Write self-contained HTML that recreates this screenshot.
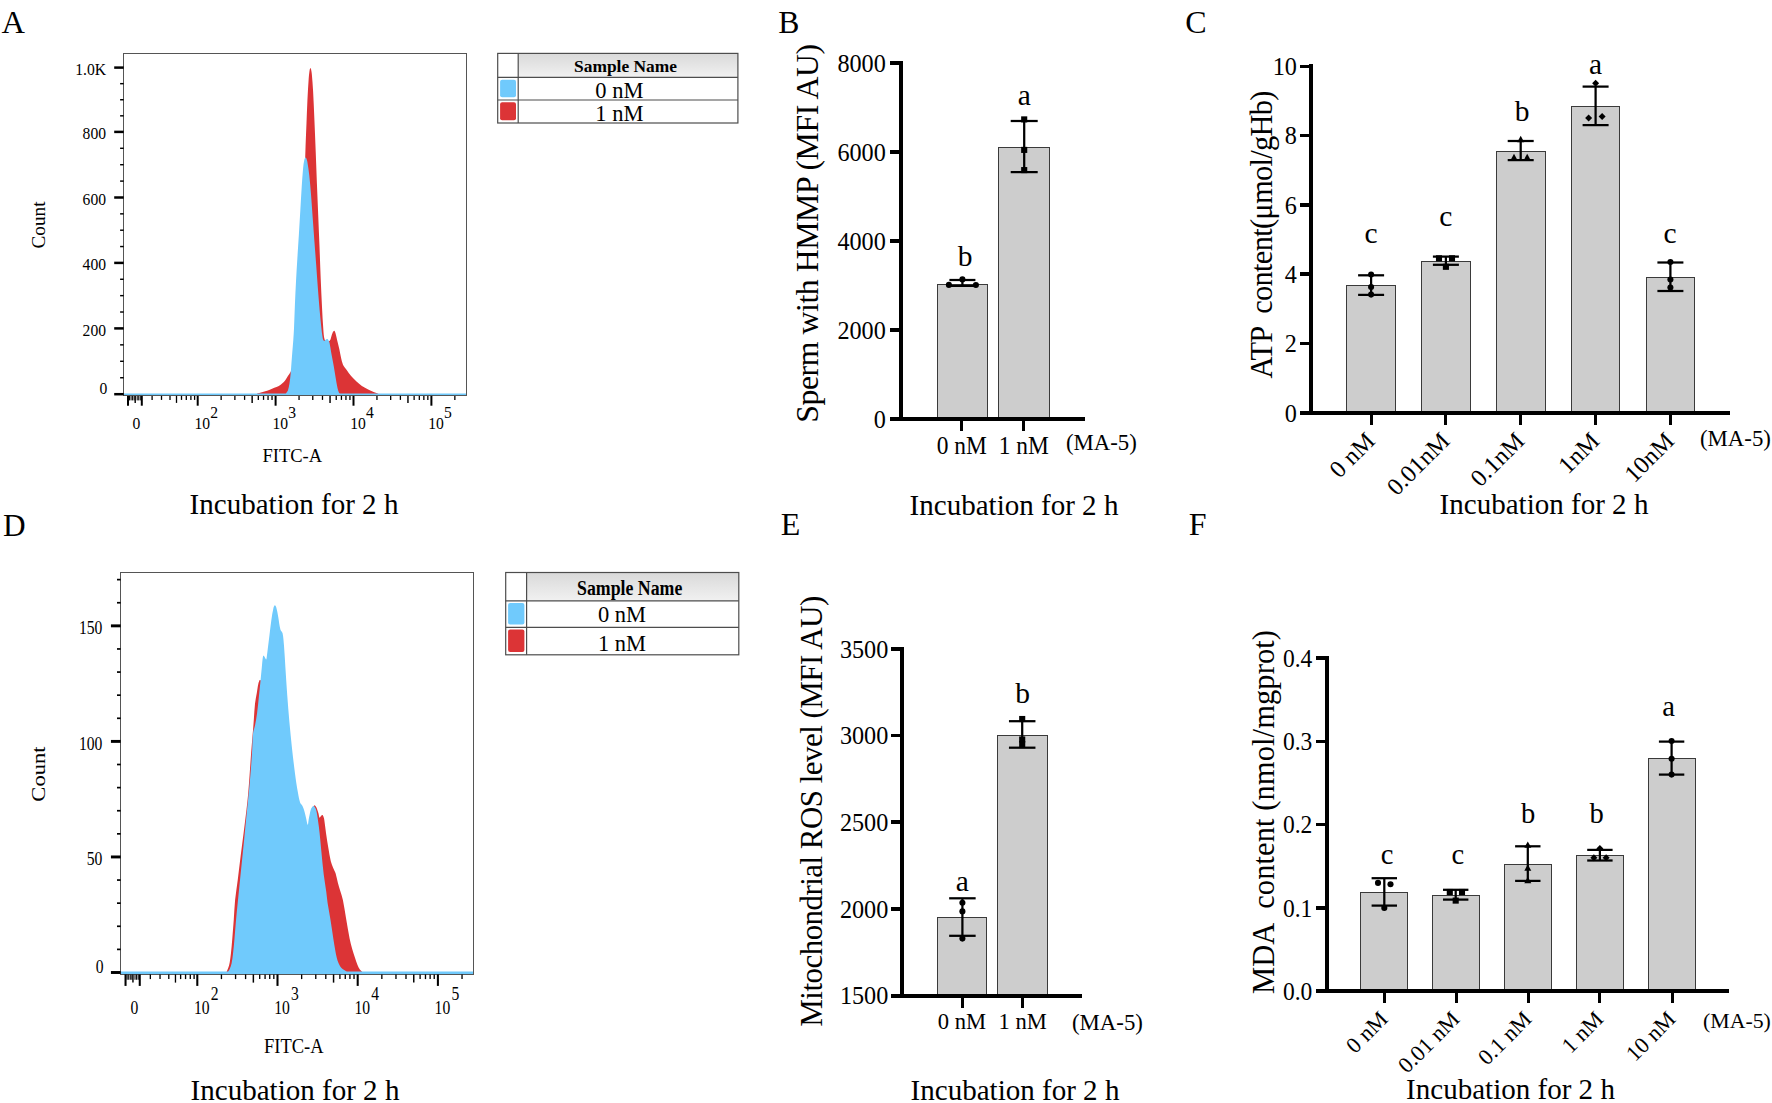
<!DOCTYPE html>
<html lang="en">
<head>
<meta charset="utf-8">
<title>Figure</title>
<style>
html,body{margin:0;padding:0;background:#fff;}
body{width:1772px;height:1103px;overflow:hidden;}
svg{display:block;font-family:'Liberation Serif', 'DejaVu Serif', serif;}
text{white-space:pre;}
</style>
</head>
<body>
<svg width="1772" height="1103" viewBox="0 0 1772 1103">
<rect x="0" y="0" width="1772" height="1103" fill="#ffffff"/>
<text x="1.6" y="33.2" font-size="32.5">A</text>
<text x="778.2" y="32.5" font-size="31.7">B</text>
<text x="1185.3" y="32.6" font-size="32">C</text>
<text x="3" y="535.7" font-size="31.3">D</text>
<text x="780.8" y="535.2" font-size="32">E</text>
<text x="1188.7" y="535.2" font-size="32">F</text>
<defs><linearGradient id="hdr" x1="0" y1="0" x2="0" y2="1"><stop offset="0" stop-color="#d9d9d9"/><stop offset="1" stop-color="#f1f1f1"/></linearGradient></defs>
<path d="M256.8 395.9 L256.8 394.2 C257.07 393.9 257.24 393.45 257.6 393.3 C258.64 392.85 259.87 392.7 261 392.4 C262.13 392.1 263.28 391.84 264.4 391.5 C266.21 390.94 268.03 390.38 269.8 389.7 C271.33 389.11 272.78 388.32 274.3 387.7 C275.78 387.09 277.4 386.76 278.8 386 C280.1 385.29 281.26 384.27 282.4 383.3 C283.36 382.47 284.33 381.61 285.1 380.6 C286.17 379.21 286.95 377.59 287.9 376.1 C288.78 374.72 289.93 373.48 290.6 372 C291.46 370.11 292.23 368.07 292.5 366 C293.63 357.41 294.2 348.68 294.8 340 C296.87 310.01 298.7 280.01 300.5 250 C301.9 226.67 303.27 203.34 304.4 180 C304.97 168.34 305.17 156.67 305.6 145 C305.87 137.67 306.2 130.33 306.5 123 C306.8 115.57 307.03 108.13 307.4 100.7 C307.77 93.3 308.18 85.89 308.7 78.5 C308.88 75.99 309.12 73.48 309.5 71 C309.66 69.98 309.96 68.32 310.3 68 C310.49 67.82 310.96 68.96 311.1 69.5 C311.46 70.89 311.67 72.35 311.8 73.8 C312.33 79.59 312.77 85.39 313.1 91.2 C313.64 100.73 313.99 110.27 314.4 119.8 C314.86 130.37 315.28 140.93 315.7 151.5 C316.12 162.07 316.48 172.63 316.9 183.2 C317.32 193.77 317.77 204.33 318.2 214.9 C318.63 225.47 319.08 236.03 319.5 246.6 C319.92 257.2 320.26 267.8 320.7 278.4 C321.09 287.9 321.51 297.4 322 306.9 C322.38 314.3 322.71 321.71 323.3 329.1 C323.58 332.58 323.65 336.32 324.6 339.5 C324.88 340.45 326.11 341.33 327 341.5 C327.88 341.67 329.27 341.18 329.9 340.5 C330.67 339.68 330.79 338.17 331.2 337 C331.76 335.41 332.06 333.66 332.8 332.2 C333.12 331.56 334.01 330.52 334.4 330.7 C334.94 330.95 335.32 332.53 335.6 333.5 C336.22 335.63 336.58 337.84 337.1 340 C337.82 343 338.63 345.99 339.3 349 C339.97 352.02 340.4 355.09 341.1 358.1 C341.6 360.22 342 362.44 342.9 364.4 C343.8 366.34 345.26 368.03 346.5 369.8 C347.99 371.93 349.42 374.13 351.1 376.1 C352.75 378.03 354.63 379.78 356.5 381.5 C358.23 383.08 359.97 384.68 361.9 386 C363.87 387.35 366.06 388.42 368.2 389.5 C369.96 390.39 371.79 391.14 373.6 391.9 C374.95 392.47 376.38 392.89 377.7 393.5 C378.04 393.66 378.3 393.97 378.6 394.2 L378.6 395.9 Z" fill="#dc3436"/>
<path d="M285.6 395.9 L285.6 394.2 C285.93 393.67 286.26 393.13 286.6 392.6 C287.03 391.93 287.67 391.35 287.9 390.6 C288.63 388.25 289.09 385.75 289.5 383.3 C289.99 380.32 290.31 377.31 290.6 374.3 C290.98 370.41 291.2 366.5 291.5 362.6 C291.73 359.57 291.96 356.53 292.2 353.5 C292.56 349 292.98 344.5 293.3 340 C293.58 336.17 293.82 332.34 294 328.5 C294.36 320.67 294.57 312.83 294.9 305 C295.23 297.13 295.58 289.26 296 281.4 C296.42 273.53 296.92 265.67 297.4 257.8 C297.88 249.97 298.42 242.13 298.9 234.3 C299.38 226.43 299.83 218.57 300.3 210.7 C300.77 202.83 301.18 194.96 301.7 187.1 C302.11 180.83 302.5 174.55 303.1 168.3 C303.37 165.52 303.69 162.7 304.3 160 C304.49 159.14 305.03 157.94 305.5 157.6 C305.73 157.44 306.23 158.12 306.4 158.5 C306.83 159.46 307.12 160.54 307.3 161.6 C308.08 166.17 308.78 170.78 309.3 175.4 C310.01 181.65 310.5 187.93 311 194.2 C311.63 202.06 312.13 209.93 312.7 217.8 C313.27 225.63 313.82 233.47 314.4 241.3 C314.98 249.17 315.62 257.03 316.2 264.9 C316.78 272.77 317.3 280.64 317.9 288.5 C318.44 295.57 318.98 302.64 319.6 309.7 C320.08 315.2 320.6 320.71 321.2 326.2 C321.63 330.14 322.01 334.12 322.7 338 C322.87 338.98 323.26 340.24 323.8 340.8 C324.03 341.04 324.65 340.62 325 340.4 C325.51 340.08 325.87 339.43 326.4 339.2 C326.8 339.03 327.53 338.89 327.8 339.2 C328.56 340.06 329.18 341.45 329.5 342.7 C330.28 345.75 330.54 348.97 331.1 352.1 C331.57 354.74 332.11 357.37 332.6 360 C333.04 362.37 333.49 364.73 333.9 367.1 C334.52 370.7 335.08 374.3 335.7 377.9 C336.28 381.24 336.77 384.6 337.5 387.9 C337.84 389.43 338.27 390.98 338.9 392.4 C339.2 393.08 339.83 393.6 340.3 394.2 L340.3 395.9 Z" fill="#70cafc"/>
<line x1="123.7" y1="394.45" x2="466.4" y2="394.45" stroke="#70cafc" stroke-width="2.1"/>
<rect x="123.7" y="53.5" width="342.7" height="342.4" fill="none" stroke="#555555" stroke-width="1" shape-rendering="crispEdges"/>
<line x1="120.1" y1="377.75" x2="123.7" y2="377.75" stroke="#000" stroke-width="1.45"/>
<line x1="120.1" y1="361.3" x2="123.7" y2="361.3" stroke="#000" stroke-width="1.45"/>
<line x1="120.1" y1="344.85" x2="123.7" y2="344.85" stroke="#000" stroke-width="1.45"/>
<line x1="120.1" y1="312.02" x2="123.7" y2="312.02" stroke="#000" stroke-width="1.45"/>
<line x1="120.1" y1="295.65" x2="123.7" y2="295.65" stroke="#000" stroke-width="1.45"/>
<line x1="120.1" y1="279.27" x2="123.7" y2="279.27" stroke="#000" stroke-width="1.45"/>
<line x1="120.1" y1="246.55" x2="123.7" y2="246.55" stroke="#000" stroke-width="1.45"/>
<line x1="120.1" y1="230.2" x2="123.7" y2="230.2" stroke="#000" stroke-width="1.45"/>
<line x1="120.1" y1="213.85" x2="123.7" y2="213.85" stroke="#000" stroke-width="1.45"/>
<line x1="120.1" y1="181.1" x2="123.7" y2="181.1" stroke="#000" stroke-width="1.45"/>
<line x1="120.1" y1="164.7" x2="123.7" y2="164.7" stroke="#000" stroke-width="1.45"/>
<line x1="120.1" y1="148.3" x2="123.7" y2="148.3" stroke="#000" stroke-width="1.45"/>
<line x1="120.1" y1="115.83" x2="123.7" y2="115.83" stroke="#000" stroke-width="1.45"/>
<line x1="120.1" y1="99.75" x2="123.7" y2="99.75" stroke="#000" stroke-width="1.45"/>
<line x1="120.1" y1="83.67" x2="123.7" y2="83.67" stroke="#000" stroke-width="1.45"/>
<line x1="114.2" y1="394.2" x2="123.7" y2="394.2" stroke="#000" stroke-width="2.5"/>
<text x="0" y="0" font-size="16.8" transform="translate(107.2 394.4) scale(0.93 1)" text-anchor="end">0</text>
<line x1="114.2" y1="328.4" x2="123.7" y2="328.4" stroke="#000" stroke-width="2.5"/>
<text x="0" y="0" font-size="16.8" transform="translate(106 335.6) scale(0.93 1)" text-anchor="end">200</text>
<line x1="114.2" y1="262.9" x2="123.7" y2="262.9" stroke="#000" stroke-width="2.5"/>
<text x="0" y="0" font-size="16.8" transform="translate(106 270.1) scale(0.93 1)" text-anchor="end">400</text>
<line x1="114.2" y1="197.5" x2="123.7" y2="197.5" stroke="#000" stroke-width="2.5"/>
<text x="0" y="0" font-size="16.8" transform="translate(106 204.7) scale(0.93 1)" text-anchor="end">600</text>
<line x1="114.2" y1="131.9" x2="123.7" y2="131.9" stroke="#000" stroke-width="2.5"/>
<text x="0" y="0" font-size="16.8" transform="translate(106 139.1) scale(0.93 1)" text-anchor="end">800</text>
<line x1="114.2" y1="67.6" x2="123.7" y2="67.6" stroke="#000" stroke-width="2.5"/>
<text x="0" y="0" font-size="16.8" transform="translate(106 74.8) scale(0.93 1)" text-anchor="end">1.0K</text>
<line x1="128" y1="395.9" x2="128" y2="405.7" stroke="#000" stroke-width="2"/>
<line x1="141.8" y1="395.9" x2="141.8" y2="405.7" stroke="#000" stroke-width="2"/>
<line x1="135.2" y1="395.9" x2="135.2" y2="402.9" stroke="#000" stroke-width="1.4"/>
<line x1="129.53" y1="395.9" x2="129.53" y2="400.4" stroke="#000" stroke-width="1"/>
<line x1="131.07" y1="395.9" x2="131.07" y2="400.4" stroke="#000" stroke-width="1"/>
<line x1="132.6" y1="395.9" x2="132.6" y2="400.4" stroke="#000" stroke-width="1"/>
<line x1="134.13" y1="395.9" x2="134.13" y2="400.4" stroke="#000" stroke-width="1"/>
<line x1="137.2" y1="395.9" x2="137.2" y2="400.4" stroke="#000" stroke-width="1"/>
<line x1="138.73" y1="395.9" x2="138.73" y2="400.4" stroke="#000" stroke-width="1"/>
<line x1="140.27" y1="395.9" x2="140.27" y2="400.4" stroke="#000" stroke-width="1"/>
<line x1="152.1" y1="395.9" x2="152.1" y2="399.9" stroke="#000" stroke-width="1.3"/>
<line x1="161.5" y1="395.9" x2="161.5" y2="399.9" stroke="#000" stroke-width="1.3"/>
<line x1="170" y1="395.9" x2="170" y2="399.9" stroke="#000" stroke-width="1.3"/>
<line x1="176.5" y1="395.9" x2="176.5" y2="402.9" stroke="#000" stroke-width="1.3"/>
<line x1="181.5" y1="395.9" x2="181.5" y2="399.9" stroke="#000" stroke-width="1.3"/>
<line x1="186.3" y1="395.9" x2="186.3" y2="399.9" stroke="#000" stroke-width="1.3"/>
<line x1="190.9" y1="395.9" x2="190.9" y2="399.9" stroke="#000" stroke-width="1.3"/>
<line x1="194.6" y1="395.9" x2="194.6" y2="399.9" stroke="#000" stroke-width="1.3"/>
<line x1="197.7" y1="395.9" x2="197.7" y2="405.7" stroke="#000" stroke-width="2"/>
<line x1="221.15" y1="395.9" x2="221.15" y2="399.9" stroke="#000" stroke-width="1.3"/>
<line x1="234.87" y1="395.9" x2="234.87" y2="399.9" stroke="#000" stroke-width="1.3"/>
<line x1="244.6" y1="395.9" x2="244.6" y2="399.9" stroke="#000" stroke-width="1.3"/>
<line x1="252.15" y1="395.9" x2="252.15" y2="402.9" stroke="#000" stroke-width="1.45"/>
<line x1="258.32" y1="395.9" x2="258.32" y2="399.9" stroke="#000" stroke-width="1.3"/>
<line x1="263.53" y1="395.9" x2="263.53" y2="399.9" stroke="#000" stroke-width="1.3"/>
<line x1="268.05" y1="395.9" x2="268.05" y2="399.9" stroke="#000" stroke-width="1.3"/>
<line x1="272.04" y1="395.9" x2="272.04" y2="399.9" stroke="#000" stroke-width="1.3"/>
<line x1="275.6" y1="395.9" x2="275.6" y2="405.7" stroke="#000" stroke-width="2"/>
<line x1="299.05" y1="395.9" x2="299.05" y2="399.9" stroke="#000" stroke-width="1.3"/>
<line x1="312.77" y1="395.9" x2="312.77" y2="399.9" stroke="#000" stroke-width="1.3"/>
<line x1="322.5" y1="395.9" x2="322.5" y2="399.9" stroke="#000" stroke-width="1.3"/>
<line x1="330.05" y1="395.9" x2="330.05" y2="402.9" stroke="#000" stroke-width="1.45"/>
<line x1="336.22" y1="395.9" x2="336.22" y2="399.9" stroke="#000" stroke-width="1.3"/>
<line x1="341.43" y1="395.9" x2="341.43" y2="399.9" stroke="#000" stroke-width="1.3"/>
<line x1="345.95" y1="395.9" x2="345.95" y2="399.9" stroke="#000" stroke-width="1.3"/>
<line x1="349.94" y1="395.9" x2="349.94" y2="399.9" stroke="#000" stroke-width="1.3"/>
<line x1="353.5" y1="395.9" x2="353.5" y2="405.7" stroke="#000" stroke-width="2"/>
<line x1="376.95" y1="395.9" x2="376.95" y2="399.9" stroke="#000" stroke-width="1.3"/>
<line x1="390.67" y1="395.9" x2="390.67" y2="399.9" stroke="#000" stroke-width="1.3"/>
<line x1="400.4" y1="395.9" x2="400.4" y2="399.9" stroke="#000" stroke-width="1.3"/>
<line x1="407.95" y1="395.9" x2="407.95" y2="402.9" stroke="#000" stroke-width="1.45"/>
<line x1="414.12" y1="395.9" x2="414.12" y2="399.9" stroke="#000" stroke-width="1.3"/>
<line x1="419.33" y1="395.9" x2="419.33" y2="399.9" stroke="#000" stroke-width="1.3"/>
<line x1="423.85" y1="395.9" x2="423.85" y2="399.9" stroke="#000" stroke-width="1.3"/>
<line x1="427.84" y1="395.9" x2="427.84" y2="399.9" stroke="#000" stroke-width="1.3"/>
<line x1="431.4" y1="395.9" x2="431.4" y2="405.7" stroke="#000" stroke-width="2"/>
<line x1="454.85" y1="395.9" x2="454.85" y2="399.9" stroke="#000" stroke-width="1.3"/>
<text x="0" y="0" font-size="16.8" transform="translate(136.5 428.5) scale(0.93 1)" text-anchor="middle">0</text>
<text x="0" y="0" font-size="16.8" transform="translate(194.5 428.5) scale(0.93 1)">10</text>
<text x="0" y="0" font-size="16.8" transform="translate(210.3 418.3) scale(0.93 1)">2</text>
<text x="0" y="0" font-size="16.8" transform="translate(272.4 428.5) scale(0.93 1)">10</text>
<text x="0" y="0" font-size="16.8" transform="translate(288.2 418.3) scale(0.93 1)">3</text>
<text x="0" y="0" font-size="16.8" transform="translate(350.3 428.5) scale(0.93 1)">10</text>
<text x="0" y="0" font-size="16.8" transform="translate(366.1 418.3) scale(0.93 1)">4</text>
<text x="0" y="0" font-size="16.8" transform="translate(428.2 428.5) scale(0.93 1)">10</text>
<text x="0" y="0" font-size="16.8" transform="translate(444 418.3) scale(0.93 1)">5</text>
<text x="0" y="0" font-size="19.2" transform="translate(44.9 225) rotate(-90) scale(1 1)" text-anchor="middle">Count</text>
<text x="0" y="0" font-size="18.5" transform="translate(292.3 462) scale(1 1)" text-anchor="middle">FITC-A</text>
<rect x="518.2" y="53.4" width="219.7" height="24" fill="url(#hdr)"/>
<rect x="497.7" y="53.4" width="240.2" height="69.6" fill="none" stroke="#4d4d4d" stroke-width="1.2"/>
<line x1="497.7" y1="77.4" x2="737.9" y2="77.4" stroke="#4d4d4d" stroke-width="1.2"/>
<line x1="497.7" y1="100" x2="737.9" y2="100" stroke="#4d4d4d" stroke-width="1.2"/>
<line x1="518.2" y1="53.4" x2="518.2" y2="123" stroke="#4d4d4d" stroke-width="1.2"/>
<rect x="500.1" y="79.7" width="15.9" height="17.6" fill="#70cafc" rx="2"/>
<rect x="500.1" y="102.3" width="15.9" height="18" fill="#dc3436" rx="2"/>
<text x="625.5" y="72.4" font-size="17.4" text-anchor="middle" font-weight="bold">Sample Name</text>
<text x="619.4" y="98.1" font-size="22.5" text-anchor="middle">0 nM</text>
<text x="619.4" y="120.6" font-size="22.5" text-anchor="middle">1 nM</text>
<text x="0" y="0" font-size="28.7" transform="translate(294 514) scale(1.012 1)" text-anchor="middle">Incubation for 2 h</text>
<path d="M226.3 974.4 L226.3 972.4 C226.93 970.97 227.7 969.58 228.2 968.1 C228.83 966.25 229.34 964.33 229.7 962.4 C230.24 959.53 230.58 956.61 230.9 953.7 C231.45 948.61 231.87 943.5 232.3 938.4 C232.84 932 233.33 925.6 233.8 919.2 C234.27 912.8 234.46 906.38 235.1 900 C235.76 893.38 236.86 886.8 237.7 880.2 C238.7 872.34 239.62 864.46 240.6 856.6 C241.58 848.73 242.61 840.87 243.6 833 C244.58 825.17 245.58 817.34 246.5 809.5 C247.08 804.51 247.65 799.51 248.1 794.5 C248.68 788.01 249.13 781.5 249.6 775 C250.16 767.34 250.63 759.66 251.2 752 C251.63 746.23 252.12 740.47 252.6 734.7 C252.75 732.87 252.95 731.04 253.1 729.2 C253.39 725.6 253.63 722 253.9 718.4 C254.26 713.53 254.45 708.64 255 703.8 C255.41 700.18 256.11 696.58 256.8 693 C257.61 688.75 258 683.2 259.5 680.3 C259.9 679.53 262.21 680.92 262.5 682 C265.71 694.15 267.58 707.32 270 720 C275.08 746.65 278.91 773.6 285 800 C288.91 816.93 294.37 842.96 300 850 C302.37 852.96 306.87 836.93 309 830 C310.87 823.93 310.66 817.24 312 811 C312.43 809.01 313.33 806.32 314.3 805.3 C314.66 804.92 315.58 806.19 316 806.8 C316.55 807.59 316.86 808.58 317.2 809.5 C317.69 810.81 318.11 812.16 318.5 813.5 C318.91 814.89 319.05 817.15 319.6 817.7 C319.88 817.98 320.46 816.48 321 816 C321.43 815.62 322.11 814.97 322.5 815.1 C322.94 815.24 323.28 816.19 323.5 816.8 C323.88 817.85 324.13 818.98 324.3 820.1 C324.96 824.38 325.38 828.71 326 833 C326.74 838.11 327.54 843.21 328.4 848.3 C329.14 852.64 329.77 857.03 330.8 861.3 C331.34 863.53 332.25 865.67 333.1 867.8 C333.82 869.6 334.91 871.26 335.5 873.1 C336.48 876.16 336.97 879.38 337.8 882.5 C338.54 885.28 339.39 888.04 340.2 890.8 C341.09 893.87 342.23 896.88 342.9 900 C344.17 905.95 344.95 912 346 918 C347.19 924.8 348.25 931.63 349.6 938.4 C350.31 941.97 351.23 945.49 352.2 949 C353 951.89 353.96 954.75 354.9 957.6 C355.72 960.08 356.49 962.59 357.5 965 C358.19 966.66 358.96 968.35 360 969.8 C360.73 970.82 361.87 971.53 362.8 972.4 L362.8 974.4 Z" fill="#dc3436"/>
<path d="M227.6 974.4 L227.6 972.4 C228.3 971.3 229.18 970.28 229.7 969.1 C230.51 967.25 231.18 965.28 231.6 963.3 C232.28 960.15 232.63 956.91 233 953.7 C233.59 948.61 234.04 943.5 234.5 938.4 C235.07 932 235.52 925.6 236.1 919.2 C236.59 913.8 237.16 908.4 237.7 903 C238.26 897.33 238.83 891.67 239.4 886 C240.19 878.17 241 870.33 241.8 862.5 C242.6 854.63 243.42 846.77 244.2 838.9 C244.98 831.03 245.72 823.17 246.5 815.3 C247.08 809.43 247.71 803.57 248.3 797.7 C248.71 793.63 249.14 789.57 249.5 785.5 C250.04 779.44 250.55 773.37 251 767.3 C251.45 761.27 251.83 755.24 252.2 749.2 C252.53 743.77 252.46 738.28 253.1 732.9 C253.39 730.41 254.51 728.06 255 725.6 C255.84 721.4 256.53 717.15 257.1 712.9 C257.83 707.48 258.32 702.04 258.9 696.6 C259.42 691.77 259.92 686.93 260.4 682.1 C260.88 677.27 261.3 672.43 261.8 667.6 C262.2 663.66 262.42 659.42 263.1 655.8 C263.15 655.52 263.81 655.71 264 655.9 C264.41 656.31 264.56 657.06 264.9 657.6 C265.29 658.23 265.97 659.69 266.2 659.4 C266.67 658.82 266.78 656.47 267 655 C267.28 653.14 267.47 651.27 267.7 649.4 C268.3 644.57 268.9 639.73 269.5 634.9 C270.1 630.07 270.59 625.22 271.3 620.4 C271.92 616.15 272.51 611.84 273.5 607.7 C273.71 606.81 274.42 605.33 274.9 605.3 C275.35 605.27 276.06 606.67 276.3 607.5 C277.16 610.51 277.62 613.69 278.2 616.8 C278.99 621.02 279.32 625.39 280.4 629.5 C280.75 630.83 282.21 631.76 282.5 633.1 C283.41 637.2 283.64 641.55 284 645.8 C284.61 653.05 284.93 660.33 285.4 667.6 C285.99 676.67 286.53 685.74 287.2 694.8 C287.87 703.87 288.58 712.94 289.4 722 C290.22 731.07 291.12 740.14 292.1 749.2 C292.95 757.08 293.92 764.94 294.9 772.8 C295.32 776.21 295.78 779.61 296.3 783 C296.81 786.34 297.35 789.68 298 793 C298.62 796.15 299.06 799.42 300.1 802.4 C300.56 803.72 301.87 804.64 302.5 805.9 C303.24 807.38 303.73 809 304.2 810.6 C304.89 812.94 305.4 815.33 306 817.7 C306.6 820.07 307.28 824.34 307.8 824.8 C308.15 825.11 308.31 821.6 308.6 820 C308.88 818.43 309.14 816.85 309.5 815.3 C310.04 812.95 310.35 810.43 311.3 808.3 C311.75 807.3 313.01 805.72 313.7 805.9 C314.57 806.12 315.58 808.16 316 809.5 C316.94 812.5 317.32 815.75 317.8 818.9 C318.52 823.58 319.08 828.29 319.6 833 C320.25 838.89 320.71 844.8 321.3 850.7 C322.08 858.57 322.75 866.45 323.7 874.3 C324.41 880.19 325.5 886.02 326.3 891.9 C326.8 895.59 327.05 899.32 327.6 903 C328.41 908.42 329.53 913.79 330.4 919.2 C331.43 925.59 332.3 932.01 333.3 938.4 C333.9 942.24 334.52 946.07 335.2 949.9 C335.66 952.47 336.06 955.07 336.7 957.6 C337.19 959.54 337.77 961.49 338.6 963.3 C339.37 964.99 340.25 966.77 341.5 968.1 C342.81 969.5 344.71 970.36 346.3 971.5 C346.71 971.79 347.1 972.1 347.5 972.4 L347.5 974.4 Z" fill="#70cafc"/>
<line x1="120.7" y1="972.8" x2="473.7" y2="972.8" stroke="#70cafc" stroke-width="2.8"/>
<rect x="120.7" y="572.6" width="353" height="401.8" fill="none" stroke="#555555" stroke-width="1" shape-rendering="crispEdges"/>
<line x1="117" y1="949.39" x2="120.7" y2="949.39" stroke="#000" stroke-width="1.7"/>
<line x1="117" y1="926.28" x2="120.7" y2="926.28" stroke="#000" stroke-width="1.7"/>
<line x1="117" y1="903.17" x2="120.7" y2="903.17" stroke="#000" stroke-width="1.7"/>
<line x1="117" y1="880.06" x2="120.7" y2="880.06" stroke="#000" stroke-width="1.7"/>
<line x1="117" y1="833.84" x2="120.7" y2="833.84" stroke="#000" stroke-width="1.7"/>
<line x1="117" y1="810.73" x2="120.7" y2="810.73" stroke="#000" stroke-width="1.7"/>
<line x1="117" y1="787.62" x2="120.7" y2="787.62" stroke="#000" stroke-width="1.7"/>
<line x1="117" y1="764.51" x2="120.7" y2="764.51" stroke="#000" stroke-width="1.7"/>
<line x1="117" y1="718.29" x2="120.7" y2="718.29" stroke="#000" stroke-width="1.7"/>
<line x1="117" y1="695.18" x2="120.7" y2="695.18" stroke="#000" stroke-width="1.7"/>
<line x1="117" y1="672.07" x2="120.7" y2="672.07" stroke="#000" stroke-width="1.7"/>
<line x1="117" y1="648.96" x2="120.7" y2="648.96" stroke="#000" stroke-width="1.7"/>
<line x1="117" y1="602.74" x2="120.7" y2="602.74" stroke="#000" stroke-width="1.7"/>
<line x1="117" y1="579.63" x2="120.7" y2="579.63" stroke="#000" stroke-width="1.7"/>
<line x1="110.93" y1="972.5" x2="120.7" y2="972.5" stroke="#000" stroke-width="2.93"/>
<text x="0" y="0" font-size="16.8" transform="translate(103.6 972.7) scale(0.93 1.11)" text-anchor="end">0</text>
<line x1="110.93" y1="856.95" x2="120.7" y2="856.95" stroke="#000" stroke-width="2.93"/>
<text x="0" y="0" font-size="16.8" transform="translate(102.4 865.4) scale(0.93 1.11)" text-anchor="end">50</text>
<line x1="110.93" y1="741.4" x2="120.7" y2="741.4" stroke="#000" stroke-width="2.93"/>
<text x="0" y="0" font-size="16.8" transform="translate(102.4 749.85) scale(0.93 1.11)" text-anchor="end">100</text>
<line x1="110.93" y1="625.85" x2="120.7" y2="625.85" stroke="#000" stroke-width="2.93"/>
<text x="0" y="0" font-size="16.8" transform="translate(102.4 634.3) scale(0.93 1.11)" text-anchor="end">150</text>
<line x1="125.54" y1="974.4" x2="125.54" y2="985.91" stroke="#000" stroke-width="2.06"/>
<line x1="139.75" y1="974.4" x2="139.75" y2="985.91" stroke="#000" stroke-width="2.06"/>
<line x1="132.95" y1="974.4" x2="132.95" y2="982.62" stroke="#000" stroke-width="1.44"/>
<line x1="127.12" y1="974.4" x2="127.12" y2="979.68" stroke="#000" stroke-width="1.03"/>
<line x1="128.7" y1="974.4" x2="128.7" y2="979.68" stroke="#000" stroke-width="1.03"/>
<line x1="130.28" y1="974.4" x2="130.28" y2="979.68" stroke="#000" stroke-width="1.03"/>
<line x1="131.86" y1="974.4" x2="131.86" y2="979.68" stroke="#000" stroke-width="1.03"/>
<line x1="135.01" y1="974.4" x2="135.01" y2="979.68" stroke="#000" stroke-width="1.03"/>
<line x1="136.59" y1="974.4" x2="136.59" y2="979.68" stroke="#000" stroke-width="1.03"/>
<line x1="138.17" y1="974.4" x2="138.17" y2="979.68" stroke="#000" stroke-width="1.03"/>
<line x1="150.35" y1="974.4" x2="150.35" y2="979.1" stroke="#000" stroke-width="1.34"/>
<line x1="160.03" y1="974.4" x2="160.03" y2="979.1" stroke="#000" stroke-width="1.34"/>
<line x1="168.78" y1="974.4" x2="168.78" y2="979.1" stroke="#000" stroke-width="1.34"/>
<line x1="175.47" y1="974.4" x2="175.47" y2="982.62" stroke="#000" stroke-width="1.34"/>
<line x1="180.62" y1="974.4" x2="180.62" y2="979.1" stroke="#000" stroke-width="1.34"/>
<line x1="185.56" y1="974.4" x2="185.56" y2="979.1" stroke="#000" stroke-width="1.34"/>
<line x1="190.3" y1="974.4" x2="190.3" y2="979.1" stroke="#000" stroke-width="1.34"/>
<line x1="194.11" y1="974.4" x2="194.11" y2="979.1" stroke="#000" stroke-width="1.34"/>
<line x1="197.3" y1="974.4" x2="197.3" y2="985.91" stroke="#000" stroke-width="2.06"/>
<line x1="221.44" y1="974.4" x2="221.44" y2="979.1" stroke="#000" stroke-width="1.34"/>
<line x1="235.57" y1="974.4" x2="235.57" y2="979.1" stroke="#000" stroke-width="1.34"/>
<line x1="245.59" y1="974.4" x2="245.59" y2="979.1" stroke="#000" stroke-width="1.34"/>
<line x1="253.36" y1="974.4" x2="253.36" y2="982.62" stroke="#000" stroke-width="1.49"/>
<line x1="259.71" y1="974.4" x2="259.71" y2="979.1" stroke="#000" stroke-width="1.34"/>
<line x1="265.08" y1="974.4" x2="265.08" y2="979.1" stroke="#000" stroke-width="1.34"/>
<line x1="269.73" y1="974.4" x2="269.73" y2="979.1" stroke="#000" stroke-width="1.34"/>
<line x1="273.83" y1="974.4" x2="273.83" y2="979.1" stroke="#000" stroke-width="1.34"/>
<line x1="277.5" y1="974.4" x2="277.5" y2="985.91" stroke="#000" stroke-width="2.06"/>
<line x1="301.64" y1="974.4" x2="301.64" y2="979.1" stroke="#000" stroke-width="1.34"/>
<line x1="315.77" y1="974.4" x2="315.77" y2="979.1" stroke="#000" stroke-width="1.34"/>
<line x1="325.79" y1="974.4" x2="325.79" y2="979.1" stroke="#000" stroke-width="1.34"/>
<line x1="333.56" y1="974.4" x2="333.56" y2="982.62" stroke="#000" stroke-width="1.49"/>
<line x1="339.91" y1="974.4" x2="339.91" y2="979.1" stroke="#000" stroke-width="1.34"/>
<line x1="345.28" y1="974.4" x2="345.28" y2="979.1" stroke="#000" stroke-width="1.34"/>
<line x1="349.93" y1="974.4" x2="349.93" y2="979.1" stroke="#000" stroke-width="1.34"/>
<line x1="354.03" y1="974.4" x2="354.03" y2="979.1" stroke="#000" stroke-width="1.34"/>
<line x1="357.7" y1="974.4" x2="357.7" y2="985.91" stroke="#000" stroke-width="2.06"/>
<line x1="381.84" y1="974.4" x2="381.84" y2="979.1" stroke="#000" stroke-width="1.34"/>
<line x1="395.97" y1="974.4" x2="395.97" y2="979.1" stroke="#000" stroke-width="1.34"/>
<line x1="405.99" y1="974.4" x2="405.99" y2="979.1" stroke="#000" stroke-width="1.34"/>
<line x1="413.76" y1="974.4" x2="413.76" y2="982.62" stroke="#000" stroke-width="1.49"/>
<line x1="420.11" y1="974.4" x2="420.11" y2="979.1" stroke="#000" stroke-width="1.34"/>
<line x1="425.48" y1="974.4" x2="425.48" y2="979.1" stroke="#000" stroke-width="1.34"/>
<line x1="430.13" y1="974.4" x2="430.13" y2="979.1" stroke="#000" stroke-width="1.34"/>
<line x1="434.23" y1="974.4" x2="434.23" y2="979.1" stroke="#000" stroke-width="1.34"/>
<line x1="437.9" y1="974.4" x2="437.9" y2="985.91" stroke="#000" stroke-width="2.06"/>
<line x1="462.04" y1="974.4" x2="462.04" y2="979.1" stroke="#000" stroke-width="1.34"/>
<text x="0" y="0" font-size="16.8" transform="translate(134.29 1013.6) scale(0.93 1.11)" text-anchor="middle">0</text>
<text x="0" y="0" font-size="16.8" transform="translate(194 1013.6) scale(0.93 1.11)">10</text>
<text x="0" y="0" font-size="16.8" transform="translate(210.8 1000.45) scale(0.93 1.11)">2</text>
<text x="0" y="0" font-size="16.8" transform="translate(274.2 1013.6) scale(0.93 1.11)">10</text>
<text x="0" y="0" font-size="16.8" transform="translate(291 1000.45) scale(0.93 1.11)">3</text>
<text x="0" y="0" font-size="16.8" transform="translate(354.4 1013.6) scale(0.93 1.11)">10</text>
<text x="0" y="0" font-size="16.8" transform="translate(371.2 1000.45) scale(0.93 1.11)">4</text>
<text x="0" y="0" font-size="16.8" transform="translate(434.6 1013.6) scale(0.93 1.11)">10</text>
<text x="0" y="0" font-size="16.8" transform="translate(451.4 1000.45) scale(0.93 1.11)">5</text>
<text x="0" y="0" font-size="19.2" transform="translate(44.9 774.1) rotate(-90) scale(1.174 1)" text-anchor="middle">Count</text>
<text x="0" y="0" font-size="18.5" transform="translate(293.8 1052.6) scale(1 1.174)" text-anchor="middle">FITC-A</text>
<rect x="526.6" y="572.5" width="212.2" height="28.3" fill="url(#hdr)"/>
<rect x="505.7" y="572.5" width="233.1" height="82.3" fill="none" stroke="#4d4d4d" stroke-width="1.2"/>
<line x1="505.7" y1="600.8" x2="738.8" y2="600.8" stroke="#4d4d4d" stroke-width="1.2"/>
<line x1="505.7" y1="627.3" x2="738.8" y2="627.3" stroke="#4d4d4d" stroke-width="1.2"/>
<line x1="526.6" y1="572.5" x2="526.6" y2="654.8" stroke="#4d4d4d" stroke-width="1.2"/>
<rect x="508.1" y="603.1" width="16.3" height="21.5" fill="#70cafc" rx="2"/>
<rect x="508.1" y="629.6" width="16.3" height="22.5" fill="#dc3436" rx="2"/>
<text x="0" y="0" font-size="17.8" transform="translate(629.7 594.7) scale(1 1.2)" text-anchor="middle" font-weight="bold">Sample Name</text>
<text x="622" y="621.7" font-size="22.5" text-anchor="middle">0 nM</text>
<text x="622" y="651" font-size="22.5" text-anchor="middle">1 nM</text>
<text x="0" y="0" font-size="28.7" transform="translate(295 1100) scale(1.012 1)" text-anchor="middle">Incubation for 2 h</text>
<rect x="937.6" y="284.2" width="49.7" height="135.3" fill="#cdcdcd" stroke="#3a3a3a" stroke-width="1" shape-rendering="crispEdges"/>
<rect x="998.7" y="147.8" width="50.5" height="271.7" fill="#cdcdcd" stroke="#3a3a3a" stroke-width="1" shape-rendering="crispEdges"/>
<line x1="901.4" y1="61.1" x2="901.4" y2="421" stroke="#000" stroke-width="4" shape-rendering="crispEdges"/>
<line x1="889.5" y1="419" x2="1084.7" y2="419" stroke="#000" stroke-width="4" shape-rendering="crispEdges"/>
<line x1="889.5" y1="419" x2="901.4" y2="419" stroke="#000" stroke-width="3.6" shape-rendering="crispEdges"/>
<text x="0" y="0" font-size="25.4" transform="translate(885.8 427.8) scale(0.953 1)" text-anchor="end">0</text>
<line x1="889.5" y1="330" x2="901.4" y2="330" stroke="#000" stroke-width="3.6" shape-rendering="crispEdges"/>
<text x="0" y="0" font-size="25.4" transform="translate(885.8 338.8) scale(0.953 1)" text-anchor="end">2000</text>
<line x1="889.5" y1="241" x2="901.4" y2="241" stroke="#000" stroke-width="3.6" shape-rendering="crispEdges"/>
<text x="0" y="0" font-size="25.4" transform="translate(885.8 249.8) scale(0.953 1)" text-anchor="end">4000</text>
<line x1="889.5" y1="152" x2="901.4" y2="152" stroke="#000" stroke-width="3.6" shape-rendering="crispEdges"/>
<text x="0" y="0" font-size="25.4" transform="translate(885.8 160.8) scale(0.953 1)" text-anchor="end">6000</text>
<line x1="889.5" y1="63" x2="901.4" y2="63" stroke="#000" stroke-width="3.6" shape-rendering="crispEdges"/>
<text x="0" y="0" font-size="25.4" transform="translate(885.8 71.8) scale(0.953 1)" text-anchor="end">8000</text>
<line x1="961.9" y1="419" x2="961.9" y2="431" stroke="#000" stroke-width="3" shape-rendering="crispEdges"/>
<line x1="1023.9" y1="419" x2="1023.9" y2="431" stroke="#000" stroke-width="3" shape-rendering="crispEdges"/>
<line x1="962.4" y1="280" x2="962.4" y2="285.9" stroke="#000" stroke-width="2.25"/>
<line x1="949.4" y1="280" x2="975.4" y2="280" stroke="#000" stroke-width="2.25"/>
<line x1="949.4" y1="285.9" x2="975.4" y2="285.9" stroke="#000" stroke-width="2.25"/>
<circle cx="948.9" cy="284.9" r="3.05" fill="#000"/>
<circle cx="962.4" cy="279.4" r="3.05" fill="#000"/>
<circle cx="975.9" cy="285" r="3.05" fill="#000"/>
<line x1="1024.2" y1="121" x2="1024.2" y2="172.1" stroke="#000" stroke-width="2.25"/>
<line x1="1010.7" y1="121" x2="1037.7" y2="121" stroke="#000" stroke-width="2.25"/>
<line x1="1010.7" y1="172.1" x2="1037.7" y2="172.1" stroke="#000" stroke-width="2.25"/>
<rect x="1021.15" y="116.35" width="6.1" height="6.1" fill="#000"/>
<rect x="1021.15" y="146.85" width="6.1" height="6.1" fill="#000"/>
<rect x="1021.15" y="167.05" width="6.1" height="6.1" fill="#000"/>
<text x="965" y="266.1" font-size="29.5" text-anchor="middle">b</text>
<text x="1024.4" y="104.9" font-size="29.5" text-anchor="middle">a</text>
<text x="0" y="0" font-size="24.5" transform="translate(961.7 453.7) scale(0.957 1)" text-anchor="middle">0 nM</text>
<text x="0" y="0" font-size="24.5" transform="translate(1023.7 453.7) scale(0.957 1)" text-anchor="middle">1 nM</text>
<text x="1065.9" y="450" font-size="22.8">(MA-5)</text>
<text x="0" y="0" font-size="31.8" transform="translate(817.6 233.3) rotate(-90)" text-anchor="middle" textLength="379" lengthAdjust="spacing">Sperm with HMMP (MFI AU)</text>
<text x="0" y="0" font-size="28.7" transform="translate(1014 515) scale(1.012 1)" text-anchor="middle">Incubation for 2 h</text>
<rect x="937.5" y="917.8" width="49.4" height="78.3" fill="#cdcdcd" stroke="#3a3a3a" stroke-width="1" shape-rendering="crispEdges"/>
<rect x="997.7" y="735.2" width="49.8" height="260.9" fill="#cdcdcd" stroke="#3a3a3a" stroke-width="1" shape-rendering="crispEdges"/>
<line x1="901.9" y1="646.9" x2="901.9" y2="997.6" stroke="#000" stroke-width="4" shape-rendering="crispEdges"/>
<line x1="891.4" y1="995.6" x2="1082.1" y2="995.6" stroke="#000" stroke-width="4" shape-rendering="crispEdges"/>
<line x1="891.4" y1="995.6" x2="901.9" y2="995.6" stroke="#000" stroke-width="3.6" shape-rendering="crispEdges"/>
<text x="0" y="0" font-size="25.4" transform="translate(888.3 1004.4) scale(0.953 1)" text-anchor="end">1500</text>
<line x1="891.4" y1="908.9" x2="901.9" y2="908.9" stroke="#000" stroke-width="3.6" shape-rendering="crispEdges"/>
<text x="0" y="0" font-size="25.4" transform="translate(888.3 917.7) scale(0.953 1)" text-anchor="end">2000</text>
<line x1="891.4" y1="822.2" x2="901.9" y2="822.2" stroke="#000" stroke-width="3.6" shape-rendering="crispEdges"/>
<text x="0" y="0" font-size="25.4" transform="translate(888.3 831) scale(0.953 1)" text-anchor="end">2500</text>
<line x1="891.4" y1="735.5" x2="901.9" y2="735.5" stroke="#000" stroke-width="3.6" shape-rendering="crispEdges"/>
<text x="0" y="0" font-size="25.4" transform="translate(888.3 744.3) scale(0.953 1)" text-anchor="end">3000</text>
<line x1="891.4" y1="648.8" x2="901.9" y2="648.8" stroke="#000" stroke-width="3.6" shape-rendering="crispEdges"/>
<text x="0" y="0" font-size="25.4" transform="translate(888.3 657.6) scale(0.953 1)" text-anchor="end">3500</text>
<line x1="962.4" y1="995.6" x2="962.4" y2="1007.6" stroke="#000" stroke-width="3" shape-rendering="crispEdges"/>
<line x1="1022.4" y1="995.6" x2="1022.4" y2="1007.6" stroke="#000" stroke-width="3" shape-rendering="crispEdges"/>
<line x1="962.4" y1="898.3" x2="962.4" y2="935.8" stroke="#000" stroke-width="2.25"/>
<line x1="949.15" y1="898.3" x2="975.65" y2="898.3" stroke="#000" stroke-width="2.25"/>
<line x1="949.15" y1="935.8" x2="975.65" y2="935.8" stroke="#000" stroke-width="2.25"/>
<circle cx="962.4" cy="902.7" r="3.05" fill="#000"/>
<circle cx="962.4" cy="911.4" r="3.05" fill="#000"/>
<circle cx="962.4" cy="938.6" r="3.05" fill="#000"/>
<line x1="1022.2" y1="721.2" x2="1022.2" y2="747.7" stroke="#000" stroke-width="2.25"/>
<line x1="1008.95" y1="721.2" x2="1035.45" y2="721.2" stroke="#000" stroke-width="2.25"/>
<line x1="1008.95" y1="747.7" x2="1035.45" y2="747.7" stroke="#000" stroke-width="2.25"/>
<rect x="1019.15" y="715.95" width="6.1" height="6.1" fill="#000"/>
<rect x="1019.15" y="736.45" width="6.1" height="6.1" fill="#000"/>
<rect x="1019.15" y="740.95" width="6.1" height="6.1" fill="#000"/>
<text x="962.4" y="890.5" font-size="29.5" text-anchor="middle">a</text>
<text x="1022.7" y="703" font-size="29.5" text-anchor="middle">b</text>
<text x="961.9" y="1029" font-size="22.6" text-anchor="middle">0 nM</text>
<text x="1022.7" y="1029" font-size="22.6" text-anchor="middle">1 nM</text>
<text x="1072" y="1029.5" font-size="22.8">(MA-5)</text>
<text x="0" y="0" font-size="31" transform="translate(821.6 811.2) rotate(-90)" text-anchor="middle" textLength="431" lengthAdjust="spacing">Mitochondrial ROS level (MFI AU)</text>
<text x="0" y="0" font-size="28.7" transform="translate(1015 1100) scale(1.012 1)" text-anchor="middle">Incubation for 2 h</text>
<rect x="1346.8" y="285.4" width="48.6" height="128" fill="#cdcdcd" stroke="#3a3a3a" stroke-width="1" shape-rendering="crispEdges"/>
<rect x="1421.6" y="261.4" width="48.6" height="152" fill="#cdcdcd" stroke="#3a3a3a" stroke-width="1" shape-rendering="crispEdges"/>
<rect x="1496.4" y="151.5" width="48.6" height="261.9" fill="#cdcdcd" stroke="#3a3a3a" stroke-width="1" shape-rendering="crispEdges"/>
<rect x="1571.3" y="106.5" width="48.6" height="306.9" fill="#cdcdcd" stroke="#3a3a3a" stroke-width="1" shape-rendering="crispEdges"/>
<rect x="1646.1" y="277.3" width="48.6" height="136.1" fill="#cdcdcd" stroke="#3a3a3a" stroke-width="1" shape-rendering="crispEdges"/>
<line x1="1311" y1="64.4" x2="1311" y2="414.9" stroke="#000" stroke-width="4" shape-rendering="crispEdges"/>
<line x1="1299.8" y1="412.9" x2="1730.2" y2="412.9" stroke="#000" stroke-width="4" shape-rendering="crispEdges"/>
<line x1="1299.8" y1="412.9" x2="1311" y2="412.9" stroke="#000" stroke-width="3.6" shape-rendering="crispEdges"/>
<text x="0" y="0" font-size="25.4" transform="translate(1296.9 421.7) scale(0.953 1)" text-anchor="end">0</text>
<line x1="1299.8" y1="343.58" x2="1311" y2="343.58" stroke="#000" stroke-width="3.6" shape-rendering="crispEdges"/>
<text x="0" y="0" font-size="25.4" transform="translate(1296.9 352.38) scale(0.953 1)" text-anchor="end">2</text>
<line x1="1299.8" y1="274.26" x2="1311" y2="274.26" stroke="#000" stroke-width="3.6" shape-rendering="crispEdges"/>
<text x="0" y="0" font-size="25.4" transform="translate(1296.9 283.06) scale(0.953 1)" text-anchor="end">4</text>
<line x1="1299.8" y1="204.94" x2="1311" y2="204.94" stroke="#000" stroke-width="3.6" shape-rendering="crispEdges"/>
<text x="0" y="0" font-size="25.4" transform="translate(1296.9 213.74) scale(0.953 1)" text-anchor="end">6</text>
<line x1="1299.8" y1="135.62" x2="1311" y2="135.62" stroke="#000" stroke-width="3.6" shape-rendering="crispEdges"/>
<text x="0" y="0" font-size="25.4" transform="translate(1296.9 144.42) scale(0.953 1)" text-anchor="end">8</text>
<line x1="1299.8" y1="66.3" x2="1311" y2="66.3" stroke="#000" stroke-width="3.6" shape-rendering="crispEdges"/>
<text x="0" y="0" font-size="25.4" transform="translate(1296.9 75.1) scale(0.953 1)" text-anchor="end">10</text>
<line x1="1371.1" y1="412.9" x2="1371.1" y2="424.9" stroke="#000" stroke-width="3" shape-rendering="crispEdges"/>
<line x1="1445.9" y1="412.9" x2="1445.9" y2="424.9" stroke="#000" stroke-width="3" shape-rendering="crispEdges"/>
<line x1="1520.7" y1="412.9" x2="1520.7" y2="424.9" stroke="#000" stroke-width="3" shape-rendering="crispEdges"/>
<line x1="1595.6" y1="412.9" x2="1595.6" y2="424.9" stroke="#000" stroke-width="3" shape-rendering="crispEdges"/>
<line x1="1670.4" y1="412.9" x2="1670.4" y2="424.9" stroke="#000" stroke-width="3" shape-rendering="crispEdges"/>
<line x1="1371.1" y1="275.3" x2="1371.1" y2="294.9" stroke="#000" stroke-width="2.25"/>
<line x1="1358.1" y1="275.3" x2="1384.1" y2="275.3" stroke="#000" stroke-width="2.25"/>
<line x1="1358.1" y1="294.9" x2="1384.1" y2="294.9" stroke="#000" stroke-width="2.25"/>
<circle cx="1371.1" cy="274.6" r="3.05" fill="#000"/>
<circle cx="1371.1" cy="287" r="3.05" fill="#000"/>
<circle cx="1371.1" cy="294.6" r="3.05" fill="#000"/>
<line x1="1445.9" y1="256.6" x2="1445.9" y2="264.8" stroke="#000" stroke-width="2.25"/>
<line x1="1432.9" y1="256.6" x2="1458.9" y2="256.6" stroke="#000" stroke-width="2.25"/>
<line x1="1432.9" y1="264.8" x2="1458.9" y2="264.8" stroke="#000" stroke-width="2.25"/>
<rect x="1435.95" y="255.25" width="6.1" height="6.1" fill="#000"/>
<rect x="1448.95" y="255.25" width="6.1" height="6.1" fill="#000"/>
<rect x="1442.85" y="263.75" width="6.1" height="6.1" fill="#000"/>
<line x1="1520.7" y1="141" x2="1520.7" y2="160.1" stroke="#000" stroke-width="2.25"/>
<line x1="1507.7" y1="141" x2="1533.7" y2="141" stroke="#000" stroke-width="2.25"/>
<line x1="1507.7" y1="160.1" x2="1533.7" y2="160.1" stroke="#000" stroke-width="2.25"/>
<polygon points="1520.7,135.85 1524.2,142.15 1517.2,142.15" fill="#000"/>
<polygon points="1514,153.85 1517.5,160.15 1510.5,160.15" fill="#000"/>
<polygon points="1527.2,153.85 1530.7,160.15 1523.7,160.15" fill="#000"/>
<line x1="1595.6" y1="86.6" x2="1595.6" y2="125.1" stroke="#000" stroke-width="2.25"/>
<line x1="1582.6" y1="86.6" x2="1608.6" y2="86.6" stroke="#000" stroke-width="2.25"/>
<line x1="1582.6" y1="125.1" x2="1608.6" y2="125.1" stroke="#000" stroke-width="2.25"/>
<polygon points="1595.6,79.8 1599.1,83.3 1595.6,86.8 1592.1,83.3" fill="#000"/>
<polygon points="1588.6,114.6 1592.1,118.1 1588.6,121.6 1585.1,118.1" fill="#000"/>
<polygon points="1602.1,113.1 1605.6,116.6 1602.1,120.1 1598.6,116.6" fill="#000"/>
<line x1="1670.4" y1="262.5" x2="1670.4" y2="291" stroke="#000" stroke-width="2.25"/>
<line x1="1657.4" y1="262.5" x2="1683.4" y2="262.5" stroke="#000" stroke-width="2.25"/>
<line x1="1657.4" y1="291" x2="1683.4" y2="291" stroke="#000" stroke-width="2.25"/>
<circle cx="1670.4" cy="262" r="3.05" fill="#000"/>
<circle cx="1670.4" cy="279.5" r="3.05" fill="#000"/>
<circle cx="1670.4" cy="287.5" r="3.05" fill="#000"/>
<text x="1371" y="242.7" font-size="29.5" text-anchor="middle">c</text>
<text x="1445.9" y="226" font-size="29.5" text-anchor="middle">c</text>
<text x="1522" y="120.9" font-size="29.5" text-anchor="middle">b</text>
<text x="1595.6" y="73.7" font-size="29.5" text-anchor="middle">a</text>
<text x="1670" y="243.2" font-size="29.5" text-anchor="middle">c</text>
<text x="0" y="0" font-size="24.5" transform="translate(1376.3 442.3) rotate(-45)" text-anchor="end">0 nM</text>
<text x="0" y="0" font-size="24.5" transform="translate(1451.1 442.3) rotate(-45)" text-anchor="end">0.01nM</text>
<text x="0" y="0" font-size="24.5" transform="translate(1525.9 442.3) rotate(-45)" text-anchor="end">0.1nM</text>
<text x="0" y="0" font-size="24.5" transform="translate(1600.8 442.3) rotate(-45)" text-anchor="end">1nM</text>
<text x="0" y="0" font-size="24.5" transform="translate(1675.6 442.3) rotate(-45)" text-anchor="end">10nM</text>
<text x="1700" y="445.8" font-size="22.8">(MA-5)</text>
<text x="0" y="0" font-size="30.5" transform="translate(1272.4 234.5) rotate(-90)" text-anchor="middle" textLength="288" lengthAdjust="spacing">ATP  content(μmol/gHb)</text>
<text x="0" y="0" font-size="28.7" transform="translate(1544 514) scale(1.012 1)" text-anchor="middle">Incubation for 2 h</text>
<rect x="1360.7" y="892.4" width="46.8" height="99.1" fill="#cdcdcd" stroke="#3a3a3a" stroke-width="1" shape-rendering="crispEdges"/>
<rect x="1432.6" y="895.7" width="46.8" height="95.8" fill="#cdcdcd" stroke="#3a3a3a" stroke-width="1" shape-rendering="crispEdges"/>
<rect x="1504.6" y="864.2" width="46.8" height="127.3" fill="#cdcdcd" stroke="#3a3a3a" stroke-width="1" shape-rendering="crispEdges"/>
<rect x="1576.3" y="855.8" width="46.8" height="135.7" fill="#cdcdcd" stroke="#3a3a3a" stroke-width="1" shape-rendering="crispEdges"/>
<rect x="1648.6" y="758.7" width="46.8" height="232.8" fill="#cdcdcd" stroke="#3a3a3a" stroke-width="1" shape-rendering="crispEdges"/>
<line x1="1326.8" y1="656.3" x2="1326.8" y2="993" stroke="#000" stroke-width="4" shape-rendering="crispEdges"/>
<line x1="1315.6" y1="991" x2="1728.9" y2="991" stroke="#000" stroke-width="4" shape-rendering="crispEdges"/>
<line x1="1315.6" y1="991" x2="1326.8" y2="991" stroke="#000" stroke-width="3.6" shape-rendering="crispEdges"/>
<text x="0" y="0" font-size="24.5" transform="translate(1312.3 999.8) scale(0.96 1)" text-anchor="end">0.0</text>
<line x1="1315.6" y1="907.8" x2="1326.8" y2="907.8" stroke="#000" stroke-width="3.6" shape-rendering="crispEdges"/>
<text x="0" y="0" font-size="24.5" transform="translate(1312.3 916.6) scale(0.96 1)" text-anchor="end">0.1</text>
<line x1="1315.6" y1="824.6" x2="1326.8" y2="824.6" stroke="#000" stroke-width="3.6" shape-rendering="crispEdges"/>
<text x="0" y="0" font-size="24.5" transform="translate(1312.3 833.4) scale(0.96 1)" text-anchor="end">0.2</text>
<line x1="1315.6" y1="741.4" x2="1326.8" y2="741.4" stroke="#000" stroke-width="3.6" shape-rendering="crispEdges"/>
<text x="0" y="0" font-size="24.5" transform="translate(1312.3 750.2) scale(0.96 1)" text-anchor="end">0.3</text>
<line x1="1315.6" y1="658.2" x2="1326.8" y2="658.2" stroke="#000" stroke-width="3.6" shape-rendering="crispEdges"/>
<text x="0" y="0" font-size="24.5" transform="translate(1312.3 667) scale(0.96 1)" text-anchor="end">0.4</text>
<line x1="1384.1" y1="991" x2="1384.1" y2="1003" stroke="#000" stroke-width="3" shape-rendering="crispEdges"/>
<line x1="1456" y1="991" x2="1456" y2="1003" stroke="#000" stroke-width="3" shape-rendering="crispEdges"/>
<line x1="1528" y1="991" x2="1528" y2="1003" stroke="#000" stroke-width="3" shape-rendering="crispEdges"/>
<line x1="1599.7" y1="991" x2="1599.7" y2="1003" stroke="#000" stroke-width="3" shape-rendering="crispEdges"/>
<line x1="1672" y1="991" x2="1672" y2="1003" stroke="#000" stroke-width="3" shape-rendering="crispEdges"/>
<line x1="1384.3" y1="878.2" x2="1384.3" y2="905.6" stroke="#000" stroke-width="2.25"/>
<line x1="1371.6" y1="878.2" x2="1397" y2="878.2" stroke="#000" stroke-width="2.25"/>
<line x1="1371.6" y1="905.6" x2="1397" y2="905.6" stroke="#000" stroke-width="2.25"/>
<circle cx="1378" cy="882.9" r="3.05" fill="#000"/>
<circle cx="1390.5" cy="884.2" r="3.05" fill="#000"/>
<circle cx="1384.3" cy="907.9" r="3.05" fill="#000"/>
<line x1="1455.7" y1="889.8" x2="1455.7" y2="899.6" stroke="#000" stroke-width="2.25"/>
<line x1="1443" y1="889.8" x2="1468.4" y2="889.8" stroke="#000" stroke-width="2.25"/>
<line x1="1443" y1="899.6" x2="1468.4" y2="899.6" stroke="#000" stroke-width="2.25"/>
<rect x="1446.75" y="888.95" width="6.1" height="6.1" fill="#000"/>
<rect x="1458.95" y="888.95" width="6.1" height="6.1" fill="#000"/>
<rect x="1452.65" y="897.55" width="6.1" height="6.1" fill="#000"/>
<line x1="1527.8" y1="846.3" x2="1527.8" y2="880.9" stroke="#000" stroke-width="2.25"/>
<line x1="1515.1" y1="846.3" x2="1540.5" y2="846.3" stroke="#000" stroke-width="2.25"/>
<line x1="1515.1" y1="880.9" x2="1540.5" y2="880.9" stroke="#000" stroke-width="2.25"/>
<polygon points="1527.8,841.55 1531.3,847.85 1524.3,847.85" fill="#000"/>
<polygon points="1527.8,864.55 1531.3,870.85 1524.3,870.85" fill="#000"/>
<polygon points="1527.8,876.85 1531.3,883.15 1524.3,883.15" fill="#000"/>
<line x1="1599.9" y1="849.9" x2="1599.9" y2="860.5" stroke="#000" stroke-width="2.25"/>
<line x1="1587.2" y1="849.9" x2="1612.6" y2="849.9" stroke="#000" stroke-width="2.25"/>
<line x1="1587.2" y1="860.5" x2="1612.6" y2="860.5" stroke="#000" stroke-width="2.25"/>
<polygon points="1599.9,845.1 1603.4,848.6 1599.9,852.1 1596.4,848.6" fill="#000"/>
<polygon points="1593.9,854.3 1597.4,857.8 1593.9,861.3 1590.4,857.8" fill="#000"/>
<polygon points="1606.1,854.3 1609.6,857.8 1606.1,861.3 1602.6,857.8" fill="#000"/>
<line x1="1671.6" y1="741.6" x2="1671.6" y2="774.6" stroke="#000" stroke-width="2.25"/>
<line x1="1658.9" y1="741.6" x2="1684.3" y2="741.6" stroke="#000" stroke-width="2.25"/>
<line x1="1658.9" y1="774.6" x2="1684.3" y2="774.6" stroke="#000" stroke-width="2.25"/>
<circle cx="1671.6" cy="741" r="3.05" fill="#000"/>
<circle cx="1671.6" cy="758.8" r="3.05" fill="#000"/>
<circle cx="1671.6" cy="774.6" r="3.05" fill="#000"/>
<text x="1387.1" y="864" font-size="28.6" text-anchor="middle">c</text>
<text x="1457.9" y="864" font-size="28.6" text-anchor="middle">c</text>
<text x="1528.2" y="823" font-size="28.6" text-anchor="middle">b</text>
<text x="1596.7" y="823" font-size="28.6" text-anchor="middle">b</text>
<text x="1668.5" y="716.2" font-size="28.6" text-anchor="middle">a</text>
<text x="0" y="0" font-size="22.5" transform="translate(1389.1 1020.4) rotate(-45)" text-anchor="end">0 nM</text>
<text x="0" y="0" font-size="22.5" transform="translate(1461 1020.4) rotate(-45)" text-anchor="end">0.01 nM</text>
<text x="0" y="0" font-size="22.5" transform="translate(1533 1020.4) rotate(-45)" text-anchor="end">0.1 nM</text>
<text x="0" y="0" font-size="22.5" transform="translate(1604.7 1020.4) rotate(-45)" text-anchor="end">1 nM</text>
<text x="0" y="0" font-size="22.5" transform="translate(1677 1020.4) rotate(-45)" text-anchor="end">10 nM</text>
<text x="1703" y="1028.3" font-size="21.8">(MA-5)</text>
<text x="0" y="0" font-size="30.5" transform="translate(1274.2 812) rotate(-90)" text-anchor="middle" textLength="364" lengthAdjust="spacing">MDA  content (nmol/mgprot)</text>
<text x="0" y="0" font-size="28.7" transform="translate(1510.5 1099.4) scale(1.012 1)" text-anchor="middle">Incubation for 2 h</text>
</svg>
</body>
</html>
